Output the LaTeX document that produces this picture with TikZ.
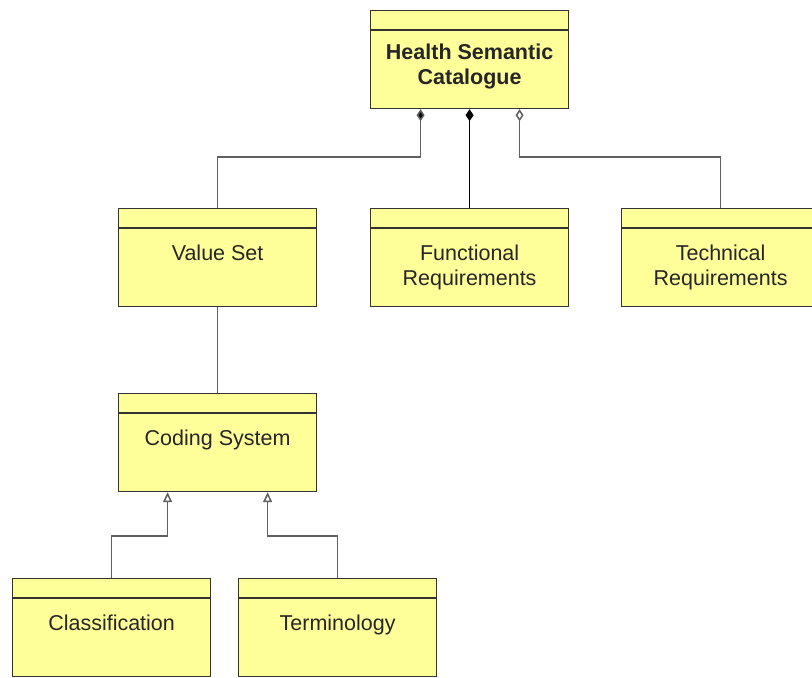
\documentclass[tikz,border=0pt]{standalone}
\usepackage{fontspec}
\setmainfont{Liberation Sans}
\usetikzlibrary{arrows.meta,positioning}

\definecolor{classfill}{HTML}{FFFF99}
\definecolor{classline}{HTML}{333333}
\definecolor{linkgray}{HTML}{606060}

\tikzset{
  classbox/.style={draw=classline,fill=classfill,line width=1.2pt,anchor=north west,
    minimum width=198pt,minimum height=98pt,inner sep=0pt},
  classtext/.style={inner sep=0pt,align=center,text=black!85,
    font=\fontsize{21.5}{25}\selectfont},
  link/.style={draw=linkgray,line width=1.5pt},
  composed/.style={-{Diamond[length=12pt,width=8pt,fill=black]}},
  aggregated/.style={-{Diamond[open,length=12pt,width=8pt,fill=white]}},
  inherits/.style={-{Triangle[open,length=10pt,width=9pt,fill=white]}}
}

% one class box with its empty header strip
\newcommand{\umlclass}[5][37pt]{%
  \node[classbox] (#2) at (#3,#4) {};
  \draw[classline,line width=1.2pt] ([yshift=-20pt]#2.north west) -- ([yshift=-20pt]#2.north east);
  \node[classtext,below=#1 of #2.north] (#2-txt) {#5};
}

\begin{document}
\begin{tikzpicture}[x=1pt,y=-1pt]
\useasboundingbox (0,0) rectangle (812,678);

\umlclass[34pt]{hsc}{370}{10}{\textbf{Health Semantic}\\\textbf{Catalogue}}
\umlclass{vset}{118}{208}{Value Set}
\umlclass{freq}{370}{208}{Functional\\Requirements}
\umlclass{treq}{621}{208}{Technical\\Requirements}
\umlclass{csys}{118}{393}{Coding System}
\umlclass{clas}{12}{578}{Classification}
\umlclass{term}{238}{578}{Terminology}

% associations to the catalogue
\draw[link,composed] (vset.north) -- ++(0,-51) -| ([xshift=-49pt]hsc.south);
\draw[link,draw=black,composed] (freq.north) -- (hsc.south);
\draw[link,aggregated] (treq.north) -- ++(0,-51) -| ([xshift=50pt]hsc.south);

\draw[link] (vset.south) -- (csys.north);

% specialisations of the coding system
\draw[link,inherits] (clas.north) -- ++(0,-42) -| ([xshift=-50pt]csys.south);
\draw[link,inherits] (term.north) -- ++(0,-42) -| ([xshift=50pt]csys.south);

\end{tikzpicture}
\end{document}
